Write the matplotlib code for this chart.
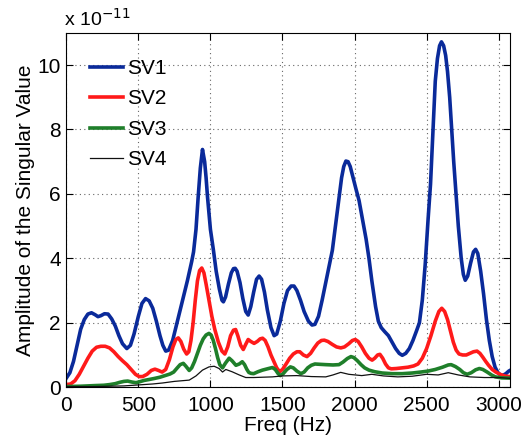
import matplotlib.pyplot as plt
import numpy as np

plt.rcParams['font.family'] = ['Liberation Sans', 'DejaVu Sans']

# amplitudes are in units of 1e-11
f1 = [0, 25, 50, 75, 100, 125, 150, 175, 200, 220, 240, 265, 290, 315, 340, 365, 390, 420,
      445, 470, 500, 525, 550, 575, 600, 625, 650, 670, 690, 710, 738, 760, 784, 810, 840,
      870, 883, 900, 915, 930, 945, 960, 970, 980, 1000, 1021, 1040, 1062, 1080, 1090, 1105,
      1125, 1145, 1160, 1172, 1185, 1205, 1225, 1245, 1262, 1280, 1300, 1320, 1338, 1355,
      1375, 1395, 1420, 1442, 1460, 1485, 1510, 1535, 1560, 1580, 1600, 1625, 1650, 1680,
      1705, 1725, 1750, 1775, 1800, 1825, 1846, 1870, 1892, 1910, 1925, 1940, 1955, 1970,
      1990, 2010, 2031, 2060, 2080, 2100, 2120, 2146, 2165, 2185, 2210, 2235, 2260, 2285,
      2310, 2331, 2355, 2380, 2405, 2430, 2450, 2470, 2490, 2510, 2527, 2545, 2560, 2575,
      2590, 2603, 2618, 2632, 2645, 2660, 2673, 2688, 2704, 2720, 2740, 2755, 2768, 2785,
      2805, 2825, 2840, 2855, 2875, 2895, 2915, 2935, 2955, 2975, 2995, 3012, 3030, 3050,
      3070, 3090]
sv1 = [0.28, 0.45, 0.8, 1.3, 1.8, 2.1, 2.27, 2.31, 2.25, 2.19, 2.22, 2.28, 2.27, 2.12, 1.9,
       1.6, 1.35, 1.2, 1.3, 1.65, 2.2, 2.6, 2.75, 2.68, 2.45, 2.05, 1.6, 1.3, 1.12, 1.15, 1.45,
       1.85, 2.3, 2.75, 3.3, 3.9, 4.2, 4.9, 5.9, 6.8, 7.38, 7.0, 6.5, 5.9, 4.9, 4.25, 3.6,
       3.05, 2.7, 2.65, 2.8, 3.2, 3.55, 3.68, 3.69, 3.6, 3.25, 2.75, 2.35, 2.24, 2.5, 2.95,
       3.35, 3.45, 3.35, 2.95, 2.4, 1.85, 1.6, 1.65, 2.05, 2.6, 3.0, 3.14, 3.14, 3.0, 2.7,
       2.35, 2.05, 1.93, 1.95, 2.2, 2.7, 3.25, 3.8, 4.25, 5.1, 5.9, 6.5, 6.85, 7.02, 7.0,
       6.85, 6.5, 6.15, 5.8, 5.1, 4.6, 4.0, 3.3, 2.5, 2.05, 1.85, 1.72, 1.6, 1.4, 1.2, 1.05,
       0.99, 1.05, 1.2, 1.45, 1.75, 2.0, 2.7, 3.8, 5.2, 6.3, 8.05, 9.5, 10.2, 10.6, 10.72,
       10.6, 10.3, 9.8, 9.0, 8.05, 7.0, 6.0, 5.0, 4.0, 3.5, 3.32, 3.45, 3.85, 4.2, 4.28,
       4.15, 3.6, 2.9, 2.1, 1.45, 0.95, 0.62, 0.45, 0.38, 0.37, 0.42, 0.5, 0.55]

f2 = [0, 30, 60, 90, 120, 150, 180, 210, 240, 270, 300, 330, 360, 390, 420, 450, 480, 505,
      530, 560, 590, 615, 640, 665, 690, 715, 740, 760, 777, 795, 815, 835, 850, 865, 880,
      895, 910, 925, 940, 955, 970, 990, 1010, 1030, 1055, 1080, 1100, 1120, 1140, 1160,
      1175, 1190, 1210, 1228, 1245, 1262, 1280, 1303, 1325, 1345, 1362, 1380, 1400, 1420,
      1440, 1460, 1480, 1500, 1525, 1550, 1575, 1600, 1620, 1645, 1670, 1695, 1720, 1745,
      1770, 1790, 1815, 1845, 1875, 1905, 1930, 1960, 1985, 2005, 2025, 2050, 2075, 2100,
      2122, 2140, 2160, 2176, 2195, 2215, 2235, 2255, 2290, 2330, 2370, 2410, 2440, 2470,
      2500, 2530, 2560, 2585, 2605, 2625, 2645, 2665, 2685, 2705, 2725, 2750, 2775, 2800,
      2825, 2850, 2870, 2890, 2910, 2930, 2955, 2980, 3010, 3040, 3070, 3090]
sv2 = [0.08, 0.1, 0.2, 0.4, 0.65, 0.9, 1.12, 1.24, 1.27, 1.27, 1.22, 1.1, 0.95, 0.82, 0.7,
       0.55, 0.4, 0.33, 0.33, 0.4, 0.52, 0.56, 0.52, 0.47, 0.55, 0.85, 1.25, 1.48, 1.53, 1.42,
       1.18, 1.03, 1.1, 1.45, 2.0, 2.7, 3.3, 3.62, 3.7, 3.55, 3.2, 2.7, 2.2, 1.8, 1.4, 1.12,
       1.03, 1.25, 1.6, 1.77, 1.79, 1.6, 1.3, 1.17, 1.33, 1.48, 1.42, 1.36, 1.42, 1.5, 1.52,
       1.45, 1.25, 1.0, 0.8, 0.6, 0.48, 0.55, 0.72, 0.9, 1.03, 1.1, 1.1, 1.0, 0.95, 1.05,
       1.22, 1.37, 1.45, 1.46, 1.42, 1.33, 1.25, 1.22, 1.25, 1.35, 1.45, 1.48, 1.42, 1.25,
       1.05, 0.9, 0.84, 0.9, 1.0, 1.02, 0.9, 0.72, 0.6, 0.57, 0.58, 0.6, 0.62, 0.66, 0.72,
       0.9, 1.2, 1.6, 2.05, 2.35, 2.45, 2.35, 2.1, 1.75, 1.4, 1.15, 1.03, 1.0, 1.0, 1.05,
       1.1, 1.12, 1.05, 0.93, 0.8, 0.68, 0.55, 0.47, 0.4, 0.35, 0.33, 0.32]

f3 = [0, 100, 200, 260, 300, 340, 370, 400, 426, 455, 484, 510, 540, 576, 610, 650, 692,
      720, 745, 770, 790, 812, 830, 853, 870, 890, 910, 930, 950, 970, 990, 1005, 1020, 1035,
      1050, 1065, 1084, 1105, 1130, 1150, 1177, 1200, 1221, 1237, 1252, 1266, 1281,
      1300, 1330, 1361, 1395, 1430, 1450, 1470, 1485, 1505, 1530, 1555, 1575, 1600, 1627,
      1650, 1675, 1700, 1725, 1760, 1800, 1850, 1892, 1920, 1950, 1975, 1995, 2020, 2045,
      2070, 2100, 2140, 2192, 2260, 2331, 2400, 2460, 2510, 2560, 2610, 2650, 2670, 2700,
      2730, 2755, 2781, 2810, 2840, 2866, 2890, 2920, 2950, 2977, 3020, 3090]
sv3 = [0.02, 0.03, 0.05, 0.06, 0.08, 0.11, 0.15, 0.18, 0.19, 0.16, 0.14, 0.17, 0.21, 0.24,
       0.27, 0.31, 0.37, 0.41, 0.47, 0.6, 0.7, 0.74, 0.65, 0.52, 0.6, 0.8, 1.05, 1.3, 1.5,
       1.62, 1.67, 1.62, 1.45, 1.2, 0.92, 0.7, 0.6, 0.75, 0.9, 0.82, 0.68, 0.72, 0.79,
       0.7, 0.56, 0.46, 0.43, 0.42, 0.48, 0.53, 0.57, 0.61, 0.55, 0.42, 0.36, 0.42, 0.55,
       0.63, 0.6, 0.5, 0.42, 0.47, 0.6, 0.68, 0.72, 0.71, 0.7, 0.69, 0.7, 0.78, 0.89, 0.95,
       0.92, 0.82, 0.7, 0.6, 0.53, 0.48, 0.44, 0.42, 0.42, 0.44, 0.47, 0.5, 0.55, 0.62,
       0.69, 0.7, 0.64, 0.55, 0.45, 0.4, 0.45, 0.54, 0.58, 0.55, 0.47, 0.38, 0.32, 0.29, 0.28]

f4 = [0, 200, 400, 500, 600, 667, 750, 853, 900, 945, 990, 1026, 1060, 1084, 1107, 1150,
      1200, 1245, 1300, 1430, 1500, 1600, 1700, 1800, 1850, 1904, 1960, 2050, 2120, 2200,
      2300, 2400, 2500, 2580, 2650, 2720, 2800, 2900, 3000, 3090]
sv4 = [0.02, 0.02, 0.04, 0.07, 0.1, 0.13, 0.18, 0.22, 0.35, 0.53, 0.63, 0.65, 0.58, 0.47,
       0.55, 0.48, 0.38, 0.3, 0.3, 0.32, 0.35, 0.36, 0.33, 0.32, 0.38, 0.46, 0.4, 0.36, 0.4,
       0.35, 0.32, 0.34, 0.4, 0.38, 0.45, 0.38, 0.32, 0.3, 0.3, 0.27]

labels = ['SV1', 'SV2', 'SV3', 'SV4']
colors = ['#0a2a9a', '#ff1a1a', '#1f7f2a', '#111111']
widths = [2.6, 2.6, 2.6, 0.9]

fig = plt.figure(figsize=(5.26, 4.38), dpi=100)
ax = fig.add_axes([0.126, 0.116, 0.844, 0.809])

for fx, fy, lab, c, w in zip([f1, f2, f3, f4], [sv1, sv2, sv3, sv4], labels, colors, widths):
    ax.plot(fx, fy, color=c, lw=w, label=lab, solid_joinstyle='round')

ax.set_xlim(0, 3080)
ax.set_ylim(0, 11.0)
ax.set_xticks(np.arange(0, 3001, 500))
ax.set_yticks(np.arange(0, 11, 2))
ax.tick_params(direction='in', top=True, right=True, labelsize=15, length=5)
ax.tick_params(axis='x', pad=6)
ax.tick_params(axis='y', pad=4)
ax.grid(True, linestyle=(0, (1, 3)), color='#666666', linewidth=0.8)
ax.set_xlabel('Freq (Hz)', fontsize=15, labelpad=1)
ax.set_ylabel('Amplitude of the Singular Value', fontsize=15, labelpad=2)
ax.text(-0.005, 1.01, r'x 10$^{-11}$', transform=ax.transAxes, fontsize=14,
        ha='left', va='bottom')

ax.legend(loc='upper left', frameon=False, fontsize=15, handlelength=1.6,
          labelspacing=0.55, handletextpad=0.15, borderaxespad=0.0,
          bbox_to_anchor=(0.035, 0.95))

fig.savefig('out.png', dpi=100)
